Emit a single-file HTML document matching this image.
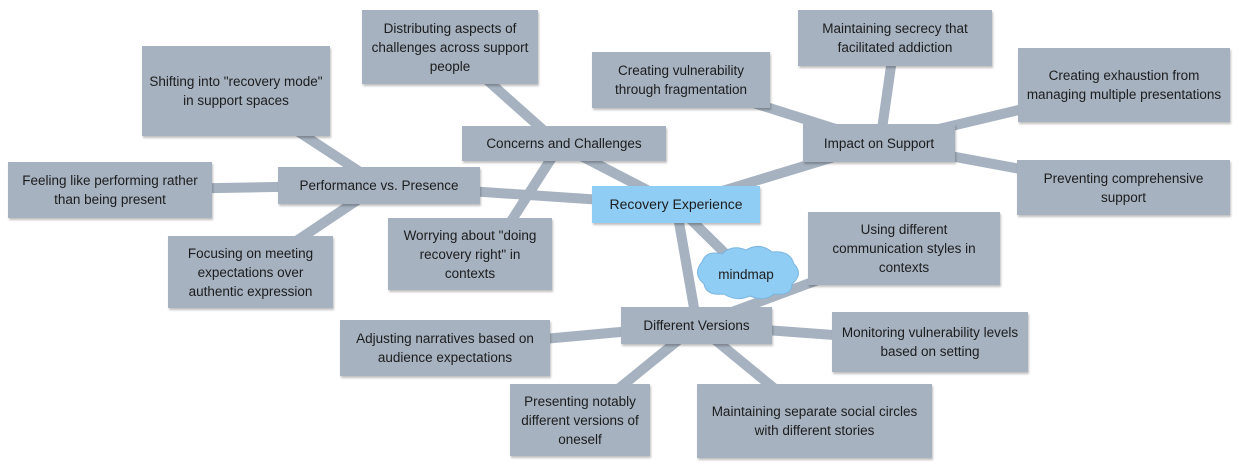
<!DOCTYPE html>
<html><head><meta charset="utf-8"><style>
body{margin:0;width:1239px;height:472px;background:#fff;position:relative;overflow:hidden;font-family:"Liberation Sans",sans-serif}
.b{position:absolute;background:#a6b2c0;color:#1c1c1c;font-size:13.5px;line-height:19px;display:flex;align-items:center;justify-content:center;text-align:center;box-shadow:1px 2px 2px rgba(0,0,0,.25);box-sizing:border-box;padding:2px 6px}
svg{position:absolute;left:0;top:0}
</style></head><body>
<svg width="1239" height="472"><g stroke="#a6b2c0" stroke-width="10" stroke-linecap="round">
<line x1="676" y1="205" x2="560" y2="145"/>
<line x1="676" y1="205" x2="380" y2="185"/>
<line x1="676" y1="205" x2="880" y2="143"/>
<line x1="676" y1="205" x2="697" y2="325"/>
<line x1="676" y1="205" x2="745" y2="273"/>
<line x1="560" y1="145" x2="450" y2="47"/>
<line x1="560" y1="145" x2="490" y2="254"/>
<line x1="380" y1="185" x2="236" y2="91"/>
<line x1="380" y1="185" x2="110" y2="190"/>
<line x1="380" y1="185" x2="250" y2="272"/>
<line x1="880" y1="143" x2="681" y2="80"/>
<line x1="880" y1="143" x2="895" y2="38"/>
<line x1="880" y1="143" x2="1124" y2="85"/>
<line x1="880" y1="143" x2="1123" y2="188"/>
<line x1="697" y1="325" x2="904" y2="248"/>
<line x1="697" y1="325" x2="445" y2="348"/>
<line x1="697" y1="325" x2="930" y2="342"/>
<line x1="697" y1="325" x2="580" y2="420"/>
<line x1="697" y1="325" x2="814" y2="421"/>
</g>
<path d="M702 262 q4-12 20-8 q10-10 24-4 q14-8 26 2 q18-2 22 12 q10 10-2 20 q0 12-18 10 q-10 8-24 2 q-14 6-26-2 q-18 2-20-10 q-12-10-2-22z" fill="#90cdf4" stroke="#7bb6e0" stroke-width="1"/>
<text x="746" y="279" font-family="Liberation Sans" font-size="13.5" text-anchor="middle" fill="#1c1c1c">mindmap</text>
</svg>
<div class="b" style="left:592px;top:186px;width:168px;height:37px;background:#90cdf4;font-size:14px">Recovery Experience</div>
<div class="b" style="left:462px;top:126px;width:204px;height:35px">Concerns and Challenges</div>
<div class="b" style="left:362px;top:10px;width:176px;height:74px">Distributing aspects of challenges across support people</div>
<div class="b" style="left:278px;top:167px;width:202px;height:37px">Performance vs. Presence</div>
<div class="b" style="left:142px;top:46px;width:188px;height:90px">Shifting into "recovery mode" in support spaces</div>
<div class="b" style="left:8px;top:162px;width:204px;height:56px">Feeling like performing rather than being present</div>
<div class="b" style="left:168px;top:236px;width:165px;height:72px">Focusing on meeting expectations over authentic expression</div>
<div class="b" style="left:388px;top:218px;width:164px;height:72px">Worrying about "doing recovery right" in contexts</div>
<div class="b" style="left:803px;top:124px;width:152px;height:38px">Impact on Support</div>
<div class="b" style="left:592px;top:52px;width:178px;height:56px">Creating vulnerability through fragmentation</div>
<div class="b" style="left:798px;top:10px;width:194px;height:56px">Maintaining secrecy that facilitated addiction</div>
<div class="b" style="left:1018px;top:48px;width:212px;height:74px">Creating exhaustion from managing multiple presentations</div>
<div class="b" style="left:1017px;top:160px;width:213px;height:55px">Preventing comprehensive support</div>
<div class="b" style="left:621px;top:307px;width:151px;height:37px">Different Versions</div>
<div class="b" style="left:808px;top:212px;width:192px;height:73px">Using different communication styles in contexts</div>
<div class="b" style="left:340px;top:320px;width:210px;height:56px">Adjusting narratives based on audience expectations</div>
<div class="b" style="left:832px;top:312px;width:196px;height:60px">Monitoring vulnerability levels based on setting</div>
<div class="b" style="left:510px;top:384px;width:140px;height:72px">Presenting notably different versions of oneself</div>
<div class="b" style="left:697px;top:384px;width:235px;height:74px">Maintaining separate social circles with different stories</div>
</body></html>
